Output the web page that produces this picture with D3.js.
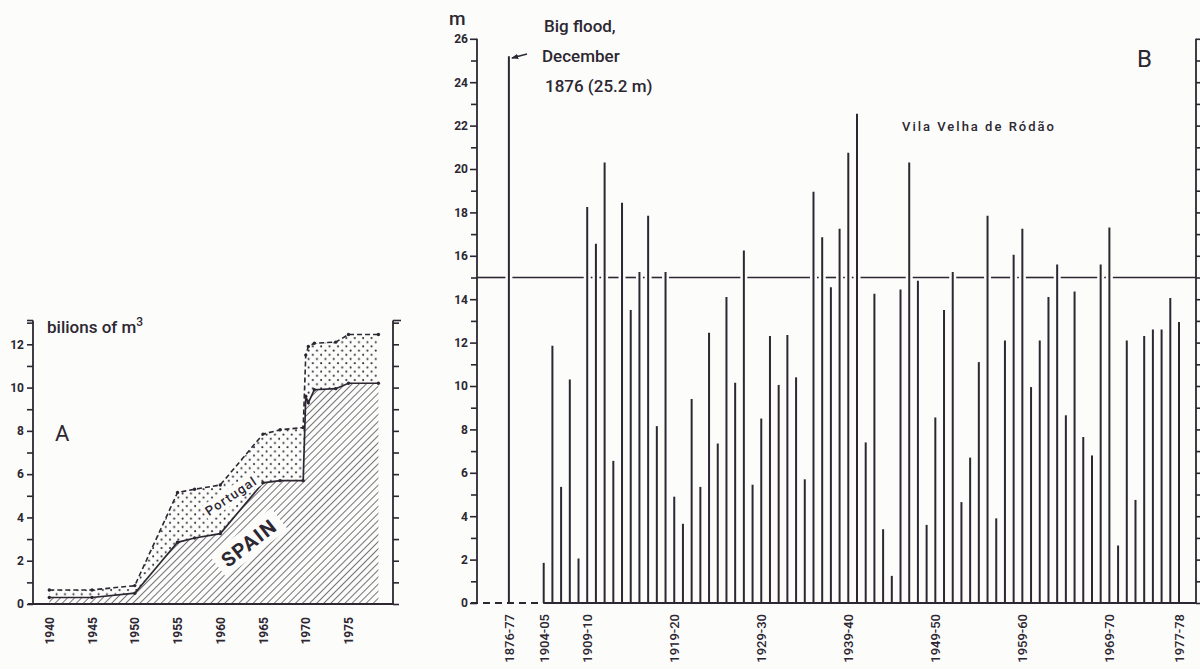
<!DOCTYPE html>
<html>
<head>
<meta charset="utf-8">
<script src="https://cdn.jsdelivr.net/npm/d3@7"></script>
<style>
  html, body { margin: 0; padding: 0; background: #fcfcfb; }
  svg { display: block; }
  text { fill: #2c2731; font-family: Roboto, "DejaVu Sans", sans-serif; }
</style>
</head>
<body>
<svg id="chart" width="1200" height="669"></svg>
<script>
// --- Data: panel A (storage capacity, billions of m3) ---
const storageYears = [1940, 1945, 1950, 1955, 1957, 1960, 1965, 1967, 1969.7, 1970, 1970.3, 1971, 1973.5, 1975, 1978.5];
const spainStorage = [0.3, 0.3, 0.5, 2.85, 3.05, 3.25, 5.6, 5.7, 5.7, 9.6, 9.3, 9.9, 9.95, 10.2, 10.2];
const totalStorage = [0.65, 0.65, 0.85, 5.15, 5.3, 5.5, 7.85, 8.05, 8.15, 11.5, 11.9, 12.05, 12.1, 12.45, 12.45];
const storageTickYears = [1940, 1945, 1950, 1955, 1960, 1965, 1970, 1975];

// --- Data: panel B (annual maximum level at Vila Velha de Ródão, m) ---
const floodYears = [1876].concat(d3.range(1904, 1978));
const floodLevels = [
  25.2,
  1.85, 11.85, 5.35, 10.3, 2.05, 18.25, 16.55, 20.3, 6.55, 18.45,
  13.5, 15.25, 17.85, 8.15, 15.25, 4.9, 3.65, 9.4, 5.35, 12.45,
  7.35, 14.1, 10.15, 16.25, 5.45, 8.5, 12.3, 10.05, 12.35, 10.4,
  5.7, 18.95, 16.85, 14.55, 17.25, 20.75, 22.55, 7.4, 14.25, 3.4,
  1.25, 14.45, 20.3, 14.85, 3.6, 8.55, 13.5, 15.25, 4.65, 6.7,
  11.1, 17.85, 3.9, 12.1, 16.05, 17.25, 9.95, 12.1, 14.1, 15.6,
  8.65, 14.35, 7.65, 6.8, 15.6, 17.3, 2.65, 12.1, 4.75, 12.3,
  12.6, 12.6, 14.05, 12.95
];
const floodTickYears = [1876, 1904, 1909, 1919, 1929, 1939, 1949, 1959, 1969, 1977];
const alertLevel = 15;

const ink = "#2c2731";
const paper = "#fcfcfb";
const svg = d3.select("#chart");

// --- Patterns ---
const defs = svg.append("defs");
const hatch = defs.append("pattern")
    .attr("id", "hatch")
    .attr("patternUnits", "userSpaceOnUse")
    .attr("width", 5).attr("height", 5)
    .attr("patternTransform", "rotate(45)");
hatch.append("line")
    .attr("x1", 0).attr("y1", 0).attr("x2", 0).attr("y2", 5)
    .attr("stroke", ink).attr("stroke-width", 1.3);

const dots = defs.append("pattern")
    .attr("id", "dots")
    .attr("patternUnits", "userSpaceOnUse")
    .attr("width", 8.4).attr("height", 8.4);
dots.append("circle").attr("cx", 2).attr("cy", 2).attr("r", 1).attr("fill", ink);
dots.append("circle").attr("cx", 6.2).attr("cy", 6.2).attr("r", 1).attr("fill", ink);

defs.append("marker")
    .attr("id", "arrow")
    .attr("viewBox", "0 -5 10 10")
    .attr("refX", 9).attr("refY", 0)
    .attr("markerWidth", 5).attr("markerHeight", 5)
    .attr("orient", "auto")
    .append("path")
    .attr("d", "M0,-4L10,0L0,4Z")
    .attr("fill", ink);

// ============ Panel A ============
const xA = d3.scaleLinear().domain([1940, 1975]).range([49.3, 348.5]);
const yA = d3.scaleLinear().domain([0, 12]).range([604, 344.3]);
const axisALeft = 33, axisARight = 393, topA = yA(13.1);

const gA = svg.append("g");
const storage = storageYears.map((yr, i) => ({ yr, spain: spainStorage[i], total: totalStorage[i] }));

gA.append("path")
    .datum(storage)
    .attr("fill", "url(#dots)")
    .attr("d", d3.area().x(d => xA(d.yr)).y0(d => yA(d.spain)).y1(d => yA(d.total)));

gA.append("path")
    .datum(storage)
    .attr("fill", "url(#hatch)")
    .attr("d", d3.area().x(d => xA(d.yr)).y0(yA(0)).y1(d => yA(d.spain)));

gA.append("path")
    .datum(storage)
    .attr("fill", "none").attr("stroke", ink).attr("stroke-width", 1.6)
    .attr("stroke-dasharray", "5,3")
    .attr("d", d3.line().x(d => xA(d.yr)).y(d => yA(d.total)));

gA.append("path")
    .datum(storage)
    .attr("fill", "none").attr("stroke", ink).attr("stroke-width", 1.7)
    .attr("d", d3.line().x(d => xA(d.yr)).y(d => yA(d.spain)));

gA.selectAll("circle.pt")
    .data(storage.flatMap(d => [[d.yr, d.spain], [d.yr, d.total]]))
    .join("circle")
    .attr("class", "pt")
    .attr("cx", d => xA(d[0])).attr("cy", d => yA(d[1]))
    .attr("r", 1.7).attr("fill", ink);

// labels inside the areas
const spainLbl = gA.append("g").attr("transform", "translate(249,543) rotate(-38)");
spainLbl.append("rect").attr("x", -39).attr("y", -14).attr("width", 78).attr("height", 27).attr("fill", paper);
spainLbl.append("text").attr("text-anchor", "middle").attr("dy", "0.35em")
    .style("font-size", "20px").style("font-weight", 700).style("letter-spacing", "1.5px").text("SPAIN");

const portLbl = gA.append("g").attr("transform", "translate(231,496) rotate(-34)");
portLbl.append("rect").attr("x", -32).attr("y", -8).attr("width", 64).attr("height", 16).attr("fill", paper);
portLbl.append("text").attr("text-anchor", "middle").attr("dy", "0.35em")
    .style("font-size", "13px").style("font-weight", 500).style("letter-spacing", "1.2px").text("Portugal");

// axes A
gA.append("line").attr("x1", 28).attr("x2", axisARight).attr("y1", yA(0)).attr("y2", yA(0))
    .attr("stroke", ink).attr("stroke-width", 1.8);

const leftA = gA.append("g").attr("transform", `translate(${axisALeft},0)`);
leftA.call(d3.axisLeft(yA).tickValues(d3.range(0, 13, 2)).tickSize(6).tickFormat(d3.format("d")));
leftA.append("g").call(d3.axisLeft(yA).tickValues(d3.range(1, 14, 2)).tickSize(6).tickFormat(""));
leftA.selectAll(".domain").remove();
leftA.append("line").attr("y1", yA(0)).attr("y2", topA).attr("stroke", ink).attr("stroke-width", 1.8);
leftA.append("line").attr("x1", -6).attr("x2", 0).attr("y1", topA).attr("y2", topA).attr("stroke", ink).attr("stroke-width", 1.6);

const rightA = gA.append("g").attr("transform", `translate(${axisARight},0)`);
rightA.call(d3.axisRight(yA).tickValues(d3.range(0, 14, 1)).tickSize(6).tickFormat(""));
rightA.selectAll(".domain").remove();
rightA.append("line").attr("y1", yA(0)).attr("y2", topA).attr("stroke", ink).attr("stroke-width", 1.8);
rightA.append("line").attr("x1", 0).attr("x2", 8).attr("y1", topA).attr("y2", topA).attr("stroke", ink).attr("stroke-width", 1.6);

const bottomA = gA.append("g").attr("transform", `translate(0,${yA(0)})`)
    .call(d3.axisBottom(xA).tickValues(storageTickYears).tickSize(0).tickFormat(d3.format("d")));
bottomA.select(".domain").remove();
bottomA.selectAll("text")
    .attr("transform", "rotate(-90)")
    .attr("text-anchor", "end")
    .attr("x", -13).attr("y", 0).attr("dy", "0.35em")
    .style("font-size", "12px").style("font-weight", 700);

gA.append("text").attr("x", 47).attr("y", 333).style("font-size", "17px").style("font-weight", 500)
    .text("bilions of m")
    .append("tspan").attr("dy", -7).style("font-size", "12px").text("3");
gA.append("text").attr("x", 55).attr("y", 441).style("font-size", "22px").text("A");

// ============ Panel B ============
const breakSlot = 1900; // the 1876-77 bar is drawn just before the axis break
const xB = d3.scaleLinear().domain([1904, 1977]).range([543.7, 1179]);
const yB = d3.scaleLinear().domain([0, 26]).range([603, 38.8]);
const slotOf = yr => yr < 1904 ? breakSlot : yr;
const axisBLeft = 477, axisBRight = 1196;

const flood = floodYears.map((yr, i) => ({ yr, v: floodLevels[i] }));

const gB = svg.append("g");
gB.selectAll("line.bar")
    .data(flood)
    .join("line")
    .attr("class", "bar")
    .attr("x1", d => xB(slotOf(d.yr))).attr("x2", d => xB(slotOf(d.yr)))
    .attr("y1", yB(0)).attr("y2", d => yB(d.v))
    .attr("stroke", ink).attr("stroke-width", 2);

// 15 m reference line, broken where the tall bars cross it (as printed)
const gapAt = flood.filter(d => d.v > alertLevel).map(d => xB(slotOf(d.yr))).sort((a, b) => a - b);
const segs = [];
let start = axisBLeft;
gapAt.forEach(x => { segs.push([start, x - 3.5]); start = x + 3.5; });
segs.push([start, axisBRight]);
gB.selectAll("line.alert")
    .data(segs.filter(s => s[1] > s[0]))
    .join("line")
    .attr("class", "alert")
    .attr("x1", d => d[0]).attr("x2", d => d[1])
    .attr("y1", yB(alertLevel)).attr("y2", yB(alertLevel))
    .attr("stroke", ink).attr("stroke-width", 1.6);

// baseline, dashed across the time break
gB.append("line").attr("x1", axisBLeft - 6).attr("x2", xB(1904)).attr("y1", yB(0)).attr("y2", yB(0))
    .attr("stroke", ink).attr("stroke-width", 1.8).attr("stroke-dasharray", "7,5");
gB.append("line").attr("x1", xB(1904)).attr("x2", axisBRight).attr("y1", yB(0)).attr("y2", yB(0))
    .attr("stroke", ink).attr("stroke-width", 1.8);

const leftB = gB.append("g").attr("transform", `translate(${axisBLeft},0)`);
leftB.call(d3.axisLeft(yB).tickValues(d3.range(0, 27, 2)).tickSize(7).tickFormat(d3.format("d")));
leftB.append("g").call(d3.axisLeft(yB).tickValues(d3.range(1, 26, 2)).tickSize(6).tickFormat(""));
leftB.selectAll(".domain").remove();
leftB.append("line").attr("y1", yB(0)).attr("y2", yB(26)).attr("stroke", ink).attr("stroke-width", 1.8);

const rightB = gB.append("g").attr("transform", `translate(${axisBRight},0)`);
rightB.call(d3.axisRight(yB).tickValues(d3.range(0, 27, 1)).tickSize(6).tickFormat(""));
rightB.selectAll(".domain").remove();
rightB.append("line").attr("y1", yB(0)).attr("y2", yB(26)).attr("stroke", ink).attr("stroke-width", 1.8);

const bottomB = gB.append("g").attr("transform", `translate(0,${yB(0)})`)
    .call(d3.axisBottom(xB).tickValues(floodTickYears.map(slotOf)).tickSize(0)
        .tickFormat((d, i) => {
            const yr = floodTickYears[i];
            return `${yr}-${String((yr + 1) % 100).padStart(2, "0")}`;
        }));
bottomB.select(".domain").remove();
bottomB.selectAll("text")
    .attr("transform", "rotate(-90)")
    .attr("text-anchor", "end")
    .attr("x", -11).attr("y", 0).attr("dy", "0.35em")
    .style("font-size", "13px").style("font-weight", 500);

[leftA, rightA, leftB, rightB].forEach(g => {
    g.selectAll(".tick line").attr("stroke", ink).attr("stroke-width", 1.6);
});
[leftA, leftB].forEach(g => {
    g.selectAll(".tick text").style("font-size", "12px").style("font-weight", 700).attr("x", -9);
});

// annotations
gB.append("text").attr("x", 449).attr("y", 25).style("font-size", "19px").style("font-weight", 500).text("m");
const note = gB.append("text").style("font-size", "17px").style("font-weight", 500);
note.append("tspan").attr("x", 544).attr("y", 32).text("Big flood,");
note.append("tspan").attr("x", 542).attr("y", 62).text("December");
note.append("tspan").attr("x", 545).attr("y", 92).text("1876 (25.2 m)");
gB.append("line")
    .attr("x1", 527).attr("y1", 54).attr("x2", xB(breakSlot) + 3).attr("y2", 58)
    .attr("stroke", ink).attr("stroke-width", 1.4).attr("marker-end", "url(#arrow)");

gB.append("text").attr("x", 902).attr("y", 131)
    .style("font-size", "13px").style("font-weight", 500).style("letter-spacing", "2px")
    .text("Vila Velha de Ródão");
gB.append("text").attr("x", 1137).attr("y", 67).style("font-size", "24px").text("B");
</script>
</body>
</html>
